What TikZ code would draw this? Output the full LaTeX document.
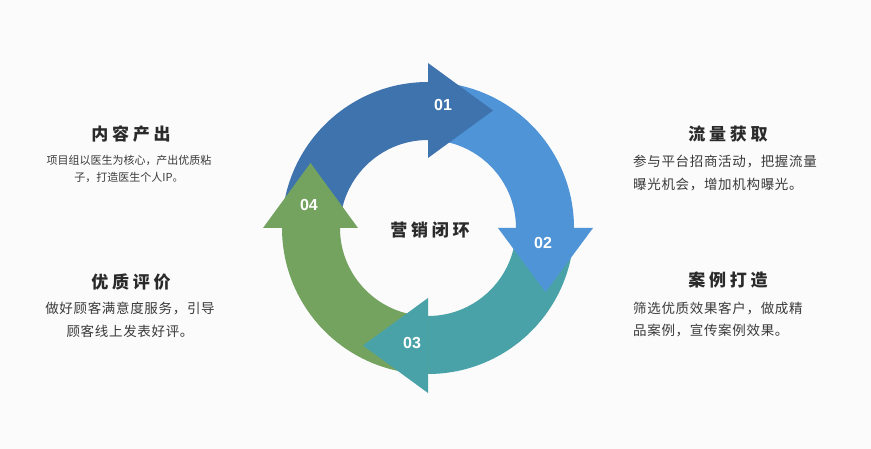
\documentclass[tikz,border=0pt]{standalone}
\usepackage{fontspec}
\setmainfont{Liberation Sans}
\newfontfamily\cjk{Noto Sans CJK SC}
\newfontfamily\cjkt{Noto Sans CJK SC}[LetterSpace=22]
\newfontfamily\cjkd{Noto Sans CJK SC}[LetterSpace=5]
\definecolor{bgc}{HTML}{FBFBFB}
\definecolor{cA}{HTML}{3E73AD}
\definecolor{cB}{HTML}{4F94D6}
\definecolor{cC}{HTML}{4AA2A9}
\definecolor{cD}{HTML}{74A360}
\definecolor{tit}{HTML}{2A2A2A}
\definecolor{txt}{HTML}{3A3A3A}
\tikzset{
  num/.style={inner sep=0pt, text=white, font=\bfseries\fontsize{16}{18}\selectfont},
  ttl/.style={inner sep=0pt, text=tit, font=\cjkt\bfseries\fontsize{17}{20}\selectfont},
  dsa/.style={inner sep=0pt, text=txt, align=center, font=\cjk\fontsize{11}{17}\selectfont},
  dsb/.style={inner sep=0pt, text=txt, font=\cjkd\fontsize{13.5}{22.5}\selectfont},
}
\begin{document}
\begin{tikzpicture}[x=1pt,y=1pt]
\fill[bgc] (0,0) rectangle (871,449);
\useasboundingbox (0,0) rectangle (871,449);
\begin{scope}[shift={(428,221)}]
  % bands
  \fill[cA] (180:146) arc[start angle=180,end angle=90,radius=146] -- (90:88) arc[start angle=90,end angle=180,radius=88] -- cycle;
  \fill[cB] (90:146) arc[start angle=90,end angle=0,radius=146] -- (0:88) arc[start angle=0,end angle=90,radius=88] -- cycle;
  \fill[cC] (0:146) arc[start angle=0,end angle=-90,radius=146] -- (-90:88) arc[start angle=-90,end angle=0,radius=88] -- cycle;
  \fill[cD] (-90:146) arc[start angle=-90,end angle=-180,radius=146] -- (-180:88) arc[start angle=-180,end angle=-90,radius=88] -- cycle;
  % heads
  \fill[cA] (90:70) -- (90:165) -- (65,117.5) -- cycle;
  \fill[cB] (0:70) -- (0:165) -- (117.5,-64) -- cycle;
  \fill[cC] (-90:70) -- (-90:165) -- (-65,-117.5) -- cycle;
  \fill[cD] (180:70) -- (180:165) -- (-117.5,65) -- cycle;
\end{scope}
% numbers
\node[num] (n1) at (443,344) {01};
\node[num] (n2) at (543,206) {02};
\node[num] (n3) at (412,106) {03};
\node[num] (n4) at (309,244) {04};
% centre title
\node[ttl] (ct) at (430,219) {营销闭环};
% left blocks
\node[ttl] (t1) at (131,315) {内容产出};
\node[dsa] (d1) at (129,280.5) {项目组以医生为核心，产出优质粘\\子，打造医生个人IP。};
\node[ttl] (t4) at (131,167) {优质评价};
\node[dsb, align=center] (d4) at (130,129) {做好顾客满意度服务，引导\\顾客线上发表好评。};
% right blocks
\node[ttl] (t2) at (728,315) {流量获取};
\node[dsb, align=left, anchor=west] (d2) at (633,276) {参与平台招商活动，把握流量\\曝光机会，增加机构曝光。};
\node[ttl] (t3) at (728,169) {案例打造};
\node[dsb, align=left, anchor=west] (d3) at (633,129.5) {筛选优质效果客户，做成精\\品案例，宣传案例效果。};
\end{tikzpicture}
\end{document}
